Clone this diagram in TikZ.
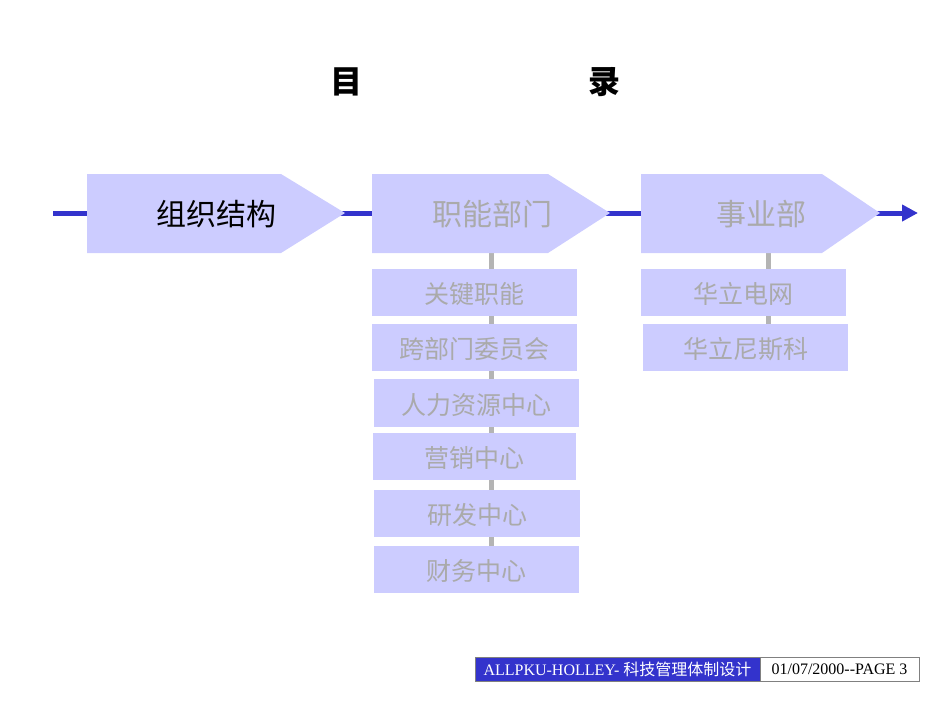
\documentclass[tikz,border=0pt]{standalone}
\usepackage{fontspec}
\setmainfont{Liberation Serif}
\newfontfamily\cjk{Noto Sans CJK SC}
\usetikzlibrary{arrows.meta}
\definecolor{lav}{HTML}{CCCCFF}
\definecolor{lineblue}{HTML}{3333CC}
\definecolor{gtext}{HTML}{AAAAAA}
\definecolor{gconn}{HTML}{B4B4B4}
\tikzset{
  subbox/.style={fill=lav,draw=none},
  subtext/.style={font=\cjk\fontsize{25}{25}\selectfont,text=gtext},
  maintext/.style={font=\cjk\fontsize{30}{30}\selectfont},
  conn/.style={draw=gconn,line width=5pt},
  mainline/.style={draw=lineblue,line width=5pt}
}
\begin{document}
\begin{tikzpicture}[x=1pt,y=-1pt]
\useasboundingbox (0,0) rectangle (950,713);
% main line
\coordinate (ls) at (53,213);
\coordinate (le) at (918,213);
\draw[mainline,-{Triangle[length=16pt,width=16pt]}] (ls) -- (le);
% connectors
\coordinate (c1a) at (491,253); \coordinate (c1b) at (491,560);
\draw[conn] (c1a) -- (c1b);
\coordinate (c2a) at (768,253); \coordinate (c2b) at (768,340);
\draw[conn] (c2a) -- (c2b);
% pentagons
\fill[lav] (87,174) -- (281,174) -- (345,213) -- (281,253) -- (87,253) -- cycle;
\fill[lav] (372,174) -- (548,174) -- (610,213) -- (548,253) -- (372,253) -- cycle;
\fill[lav] (641,174) -- (822,174) -- (880,213) -- (822,253) -- (641,253) -- cycle;
\node[maintext] (p1) at (216,214) {组织结构};
\node[maintext,text=gtext] (p2) at (492,214) {职能部门};
\node[maintext,text=gtext] (p3) at (761,214) {事业部};
% sub boxes
\path[subbox] (372,269) rectangle (577,316);
\node[subtext] (s1) at (474.5,294) {关键职能};
\path[subbox] (372,324) rectangle (577,371);
\node[subtext] (s2) at (474.5,349) {跨部门委员会};
\path[subbox] (374,379) rectangle (579,427);
\node[subtext] (s3) at (476.5,405) {人力资源中心};
\path[subbox] (373,433) rectangle (576,480);
\node[subtext] (s4) at (474.5,458) {营销中心};
\path[subbox] (374,490) rectangle (580,537);
\node[subtext] (s5) at (477,515) {研发中心};
\path[subbox] (374,546) rectangle (579,593);
\node[subtext] (s6) at (476.5,571) {财务中心};
\path[subbox] (641,269) rectangle (846,316);
\node[subtext] (t1) at (743.5,294) {华立电网};
\path[subbox] (643,324) rectangle (848,371);
\node[subtext] (t2) at (745.5,349) {华立尼斯科};
% title
\node[font=\cjk\bfseries\fontsize{32}{32}\selectfont] (ti1) at (346,82) {目};
\node[font=\cjk\bfseries\fontsize{32}{32}\selectfont] (ti2) at (604,82) {录};
% footer
\draw[fill=lineblue,draw=gray] (475,657) rectangle (760,681);
\node[text=white,font=\fontsize{16}{16}\selectfont] (f1) at (617.5,669) {ALLPKU-HOLLEY- {\cjk 科技管理体制设计}};
\draw[fill=white,draw=gray] (760,657) rectangle (919,681);
\node[font=\fontsize{16}{16}\selectfont] (f2) at (839.5,669) {01/07/2000-{}-PAGE 3};
\end{tikzpicture}
\end{document}
